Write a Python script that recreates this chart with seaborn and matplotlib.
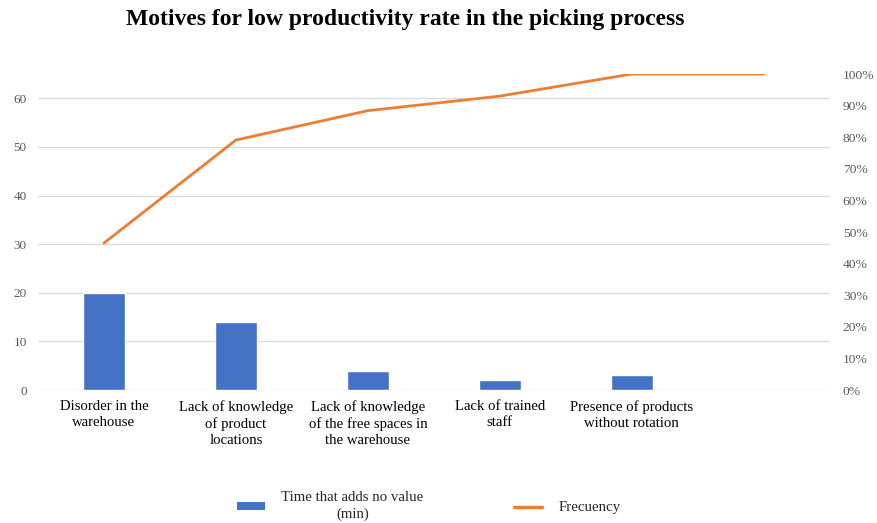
import numpy as np
import pandas as pd
import matplotlib
matplotlib.use("Agg")
import matplotlib.pyplot as plt
import seaborn as sns
from matplotlib.patches import Patch
from matplotlib.lines import Line2D
from matplotlib.ticker import PercentFormatter

categories = ["Disorder in the\nwarehouse", "Lack of knowledge\nof product\nlocations",
              "Lack of knowledge\nof the free spaces in\nthe warehouse", "Lack of trained\nstaff",
              "Presence of products\nwithout rotation", ""]
time_values = [20, 14, 4, 2, 3, np.nan]
frequency = [0.465, 0.791, 0.884, 0.930, 1.0, 1.0]
left_ticks = [0, 10, 20, 30, 40, 50, 60]
right_ticks = [0, 0.1, 0.2, 0.3, 0.4, 0.5, 0.6, 0.7, 0.8, 0.9, 1.0]

BLUE = "#4472C4"
ORANGE = "#ED7D31"
GREY = "#595959"

sns.set_theme(style="white")
plt.rcParams['font.family'] = ['Liberation Serif', 'DejaVu Serif']

fig = plt.figure(figsize=(8.77, 5.23), dpi=100)
ax = fig.add_axes([0.0433, 0.2543, 0.9027, 0.6042])

df = pd.DataFrame({"cat": categories, "time": time_values})
sns.barplot(data=df, x="cat", y="time", order=categories, color=BLUE,
            width=0.32, saturation=1, ax=ax)
ax.set_xlim(-0.5, 5.5)
ax.set_ylim(0, 65)
ax.set_yticks(left_ticks)
ax.yaxis.grid(True, color="#D9D9D9", linewidth=0.9)
ax.set_axisbelow(True)
for s in ax.spines.values():
    s.set_visible(False)
ax.set_xlabel("")
ax.set_ylabel("")
ax.tick_params(axis="y", colors=GREY, labelsize=9.5, length=0, pad=8)
ax.tick_params(axis="x", colors="black", labelsize=10.6, length=0, pad=7)
for lbl in ax.get_xticklabels():
    lbl.set_linespacing(1.3)

ax2 = ax.twinx()
line_df = pd.DataFrame({"x": np.arange(len(frequency)), "freq": frequency})
sns.lineplot(data=line_df, x="x", y="freq", color=ORANGE, linewidth=2.0, ax=ax2)
ax2.set_ylim(0, 1.0)
ax2.set_yticks(right_ticks)
ax2.yaxis.set_major_formatter(PercentFormatter(1.0, decimals=0))
ax2.tick_params(axis="y", colors=GREY, labelsize=9.7, length=0, pad=9.5)
ax2.set_ylabel("")
ax2.set_xlabel("")
ax2.grid(False)
for s in ax2.spines.values():
    s.set_visible(False)
ax2.set_xlim(-0.5, 5.5)

fig.suptitle("Motives for low productivity rate in the picking process",
             x=0.462, y=0.982, fontsize=17, fontweight="bold", color="black")

handles = [Patch(facecolor=BLUE, edgecolor="none"),
           Line2D([0], [0], color=ORANGE, linewidth=2.5)]
leg = fig.legend(handles, ["Time that adds no value\n(min)", "Frecuency"],
                 loc="center", bbox_to_anchor=(0.489, 0.032), ncol=2, frameon=False,
                 fontsize=10.7, handlelength=1.9, handleheight=0.4,
                 columnspacing=6.1, handletextpad=1.1)
for t in leg.get_texts():
    t.set_multialignment("center")
    t.set_linespacing(1.3)

fig.savefig("out.png", dpi=100)
